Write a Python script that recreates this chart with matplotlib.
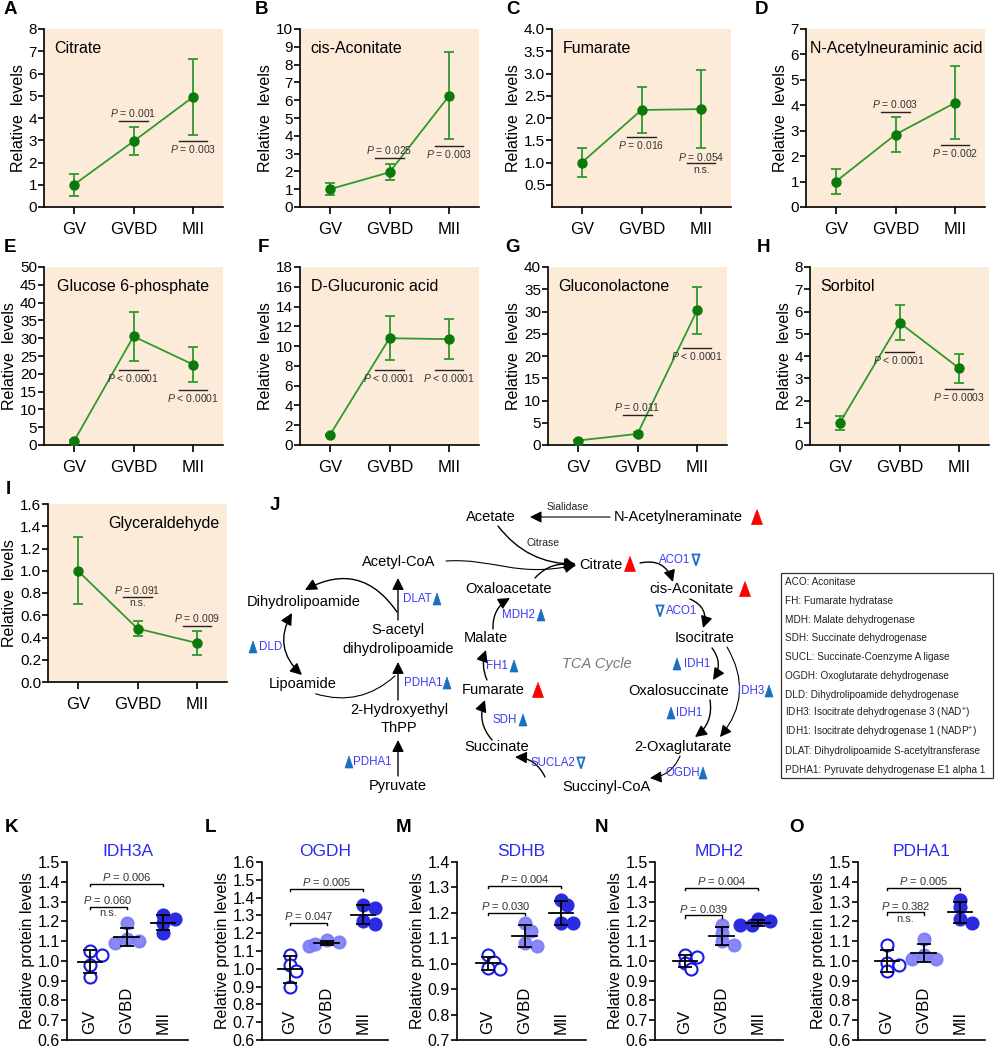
import numpy as np
import matplotlib
matplotlib.use('Agg')
import matplotlib.pyplot as plt
from matplotlib.patches import Polygon, FancyArrowPatch, Rectangle
from matplotlib.path import Path

plt.rcParams['font.family'] = ['Liberation Sans', 'DejaVu Sans']
plt.rcParams['mathtext.fontset'] = 'custom'
plt.rcParams['mathtext.rm'] = 'Liberation Sans'
plt.rcParams['mathtext.it'] = 'Liberation Sans:italic'

W, H = 996, 1050
fig = plt.figure(figsize=(W / 100, H / 100), dpi=100)

# ---- data ----
stages = ['GV', 'GVBD', 'MII']

met_names = ['Citrate', 'cis-Aconitate', 'Fumarate', 'N-Acetylneuraminic acid',
             'Glucose 6-phosphate', 'D-Glucuronic acid', 'Gluconolactone',
             'Sorbitol', 'Glyceraldehyde']
met_means = [[1.0, 2.95, 4.95], [1.0, 1.95, 6.25], [1.0, 2.18, 2.2],
             [1.0, 2.85, 4.1], [1.0, 30.5, 22.6], [1.0, 10.8, 10.7],
             [1.0, 2.5, 30.3], [1.0, 5.5, 3.45], [1.0, 0.48, 0.35]]
met_sd = [[0.5, 0.63, 1.7], [0.35, 0.45, 2.45], [0.32, 0.51, 0.87],
          [0.5, 0.67, 1.43], [0.3, 7.0, 4.9], [0.1, 2.2, 2.0],
          [0.1, 0.5, 5.3], [0.32, 0.78, 0.65], [0.3, 0.07, 0.11]]
met_ymax = [8, 10, 4, 7, 50, 18, 40, 8, 1.6]
met_ystep = [1, 1, 0.5, 1, 5, 2, 5, 1, 0.2]
# (stage, line level, p text, kind)
met_pvals = [
    [(1, 3.85, '0.001', 'above'), (2, 2.98, '0.003', 'below')],
    [(1, 2.75, '0.025', 'above'), (2, 3.45, '0.003', 'below')],
    [(1, 1.57, '0.016', 'below'), (2, 0.98, '0.054', 'ns')],
    [(1, 3.75, '0.003', 'above'), (2, 2.45, '0.002', 'below')],
    [(1, 21.2, '< 0.0001', 'below'), (2, 15.5, '< 0.0001', 'below')],
    [(1, 7.6, '< 0.0001', 'below'), (2, 7.6, '< 0.0001', 'below')],
    [(1, 6.8, '0.011', 'above'), (2, 21.8, '< 0.0001', 'below')],
    [(1, 4.2, '< 0.0001', 'below'), (2, 2.5, '0.0003', 'below')],
    [(1, 0.765, '0.091', 'ns'), (2, 0.5, '0.009', 'above')],
]

prot_names = ['IDH3A', 'OGDH', 'SDHB', 'MDH2', 'PDHA1']
prot_gv = [[1.05, 1.03, 0.98, 0.92], [1.08, 1.02, 0.99, 0.90],
           [1.035, 1.005, 0.985, 0.98], [1.03, 1.02, 0.99, 0.96],
           [1.08, 0.99, 0.98, 0.95]]
prot_gvbd = [[1.19, 1.11, 1.10, 1.09], [1.16, 1.15, 1.14, 1.13],
             [1.16, 1.13, 1.08, 1.07], [1.18, 1.14, 1.10, 1.08],
             [1.11, 1.03, 1.01, 1.01]]
prot_mii = [[1.23, 1.21, 1.19, 1.14], [1.36, 1.34, 1.27, 1.25],
            [1.25, 1.23, 1.16, 1.16], [1.21, 1.20, 1.18, 1.18],
            [1.31, 1.27, 1.21, 1.19]]
prot_ylim = [(0.6, 1.5), (0.6, 1.6), (0.7, 1.4), (0.6, 1.5), (0.6, 1.5)]
# (i, j, level, p text, n.s.)
prot_pvals = [
    [(0, 1, 1.275, '0.060', True), (0, 2, 1.39, '0.006', False)],
    [(0, 1, 1.26, '0.047', False), (0, 2, 1.45, '0.005', False)],
    [(0, 1, 1.20, '0.030', False), (0, 2, 1.305, '0.004', False)],
    [(0, 1, 1.23, '0.039', False), (0, 2, 1.37, '0.004', False)],
    [(0, 1, 1.245, '0.382', True), (0, 2, 1.37, '0.005', False)],
]

legend_lines = ['ACO: Aconitase', 'FH: Fumarate hydratase',
                'MDH: Malate dehydrogenase', 'SDH: Succinate dehydrogenase',
                'SUCL: Succinate-Coenzyme A ligase',
                'OGDH: Oxoglutarate dehydrogenase',
                'DLD: Dihydrolipoamide dehydrogenase',
                'IDH3: Isocitrate dehydrogenase 3 (NAD$^{+}$)',
                'IDH1: Isocitrate dehydrogenase 1 (NADP$^{+}$)',
                'DLAT: Dihydrolipoamide S-acetyltransferase',
                'PDHA1: Pyruvate dehydrogenase E1 alpha 1']

BG = '#fdebd9'
GREEN_L = '#2e9a2e'
GREEN_M = '#0b7a0b'
BLUE_T = '#2a2af0'


def px_axes(left, top, width, height):
    return fig.add_axes([left / W, 1 - (top + height) / H, width / W, height / H])


def ptext(p):
    if p.startswith('<'):
        return r'$\mathit{P}$ ' + p
    return r'$\mathit{P}$ = ' + p


# ================= metabolite panels =================
met_boxes = [(44, 29), (300, 29), (552, 29), (806, 29),
             (44, 267), (300, 267), (548, 267), (810, 267),
             (48, 504)]
title_x = [0.06, 0.06, 0.06, 0.02, 0.07, 0.06, 0.06, 0.06, 0.96]

for k in range(9):
    left, top = met_boxes[k]
    ax = px_axes(left, top, 179, 178)
    ax.set_facecolor(BG)
    m = np.array(met_means[k])
    s = np.array(met_sd[k])
    x = np.arange(3)
    ax.plot(x, m, '-', color=GREEN_L, lw=1.3, zorder=2)
    ax.errorbar(x, m, yerr=s, fmt='none', ecolor=GREEN_L, elinewidth=1.3,
                capsize=3.8, capthick=1.3, zorder=3)
    ax.plot(x, m, 'o', color=GREEN_M, ms=6.5, zorder=4)
    ax.set_xlim(-0.5, 2.5)
    ax.set_ylim(0, met_ymax[k])
    ticks = np.arange(0, met_ymax[k] + 1e-9, met_ystep[k])
    if k == 2:
        ticks = ticks[1:]
    ax.set_yticks(ticks)
    if met_ystep[k] < 1:
        ax.set_yticklabels([f'{t:.1f}' for t in ticks])
    else:
        ax.set_yticklabels([f'{t:.0f}' for t in ticks])
    ax.set_xticks(x)
    ax.set_xticklabels(stages, fontsize=12)
    ax.tick_params(axis='y', labelsize=11, length=4, width=1.2, pad=1)
    ax.tick_params(axis='x', length=5, width=1.2, pad=6)
    for sp in ['top', 'right']:
        ax.spines[sp].set_visible(False)
    for sp in ['left', 'bottom']:
        ax.spines[sp].set_linewidth(1.2)
    ax.set_ylabel('Relative  levels', fontsize=11.5, labelpad=2)
    ha = 'right' if k == 8 else 'left'
    ax.text(title_x[k], 0.89, met_names[k], transform=ax.transAxes,
            fontsize=11.5, ha=ha, va='center')
    for st, lvl, p, kind in met_pvals[k]:
        ax.plot([st - 0.24, st + 0.24], [lvl, lvl], color='#222222', lw=1.0)
        if kind == 'above':
            ax.annotate(ptext(p), (st, lvl), xytext=(0, 1.5),
                        textcoords='offset points', ha='center', va='bottom',
                        fontsize=7.5, color='#333333')
        elif kind == 'below':
            ax.annotate(ptext(p), (st, lvl), xytext=(0, -1.5),
                        textcoords='offset points', ha='center', va='top',
                        fontsize=7.5, color='#333333')
        else:
            ax.annotate(ptext(p), (st, lvl), xytext=(0, 0.5),
                        textcoords='offset points', ha='center', va='bottom',
                        fontsize=7.5, color='#333333')
            ax.annotate('n.s.', (st, lvl), xytext=(0, -1),
                        textcoords='offset points', ha='center', va='top',
                        fontsize=7.5, color='#333333')

# ================= protein dot plots =================
prot_axis = [(67, 90), (262, 290), (457, 488), (655, 685), (858, 887)]
SP = 36.5
face_cols = ['white', '#7b7bf5', '#2a2ae0']
edge_cols = ['#1a1ae6', '#7b7bf5', '#2a2ae0']


def swarm(vals, pxu, diam):
    placed = []
    offs = []
    for v in vals:
        y = v * pxu
        for kk in [0, 1, -1, 2, -2, 3, -3]:
            xo = kk * diam * 0.5
            if all((xo - a) ** 2 + (y - b) ** 2 >= (diam * 0.65) ** 2
                   for a, b in placed):
                break
        placed.append((xo, y))
        offs.append(xo / SP)
    return offs


for k in range(5):
    left, gv = prot_axis[k]
    lm = (gv - left) / SP
    width = (gv - left) + 2 * SP + 25
    ax = px_axes(left, 862, width, 178)
    y0, y1 = prot_ylim[k]
    ax.set_xlim(-lm, 2 + 25 / SP)
    ax.set_ylim(y0, y1)
    pxu = 178 / (y1 - y0)
    groups = [prot_gv[k], prot_gvbd[k], prot_mii[k]]
    for g, vals in enumerate(groups):
        vals = np.array(vals)
        offs = swarm(vals, pxu, 12)
        ax.scatter(g + np.array(offs), vals, s=75, facecolors=face_cols[g],
                   edgecolors=edge_cols[g], linewidths=1.5, zorder=2,
                   alpha=1.0 if g != 1 else 0.9)
        mu = vals.mean()
        sd = vals.std(ddof=1)
        ax.plot([g - 0.34, g + 0.34], [mu, mu], color='black', lw=1.3, zorder=3)
        ax.errorbar([g], [mu], yerr=[sd], fmt='none', ecolor='black',
                    elinewidth=1.3, capsize=5, capthick=1.3, zorder=3)
        ax.text(g, y0 + 6 / pxu, stages[g], rotation=90,
                ha='center', va='bottom', fontsize=12)
    for i, j, lvl, p, ns in prot_pvals[k]:
        d = 0.012 * (y1 - y0)
        ax.plot([i, i, j, j], [lvl - d, lvl, lvl, lvl - d], color='black', lw=1.0)
        ax.annotate(ptext(p), ((i + j) / 2, lvl), xytext=(0, 0.5),
                    textcoords='offset points', ha='center', va='bottom',
                    fontsize=8, color='#333333')
        if ns:
            ax.annotate('n.s.', ((i + j) / 2, lvl), xytext=(0, -1),
                        textcoords='offset points', ha='center', va='top',
                        fontsize=8, color='#333333')
    ticks = np.round(np.arange(y0, y1 + 1e-9, 0.1), 2)
    ax.set_yticks(ticks)
    ax.set_yticklabels([f'{t:.1f}' for t in ticks])
    ax.set_xticks([])
    ax.tick_params(axis='y', labelsize=11.5, length=4, width=1.2, pad=1)
    for sp in ['top', 'right']:
        ax.spines[sp].set_visible(False)
    for sp in ['left', 'bottom']:
        ax.spines[sp].set_linewidth(1.2)
    ax.set_ylabel('Relative protein levels', fontsize=11.5, labelpad=2)
    ax.set_title(prot_names[k], color=BLUE_T, fontsize=12.5, pad=4)

# ================= pathway diagram (J) =================
ad = fig.add_axes([0, 0, 1, 1], zorder=-1)
ad.set_xlim(0, W)
ad.set_ylim(H, 0)
ad.axis('off')
ad.patch.set_alpha(0)

# panel letters
letters = [('A', 10, 10), ('B', 262, 10), ('C', 513, 10), ('D', 762, 10),
           ('E', 10, 247), ('F', 263, 247), ('G', 513, 247), ('H', 763, 247),
           ('I', 8, 490), ('J', 275, 505),
           ('K', 11, 828), ('L', 211, 828), ('M', 404, 828), ('N', 601, 828),
           ('O', 797, 828)]
for t, x, y in letters:
    ad.text(x, y, t, fontsize=13.5, fontweight='bold', ha='center', va='center')

nodes = [('Acetate', 491, 517), ('N-Acetylneraminate', 678, 517),
         ('Citrate', 601, 565), ('Acetyl-CoA', 399, 562),
         ('Oxaloacetate', 509, 589), ('cis-Aconitate', 692, 589),
         ('Isocitrate', 705, 638), ('Dihydrolipoamide', 304, 602),
         ('S-acetyl', 398, 630), ('dihydrolipoamide', 398, 649),
         ('Malate', 486, 638), ('Lipoamide', 303, 684),
         ('Fumarate', 493, 690), ('Oxalosuccinate', 679, 691),
         ('2-Hydroxyethyl', 399, 710), ('ThPP', 399, 728),
         ('Succinate', 497, 747), ('2-Oxaglutarate', 683, 747),
         ('Pyruvate', 398, 786), ('Succinyl-CoA', 606, 787)]
for t, x, y in nodes:
    ad.text(x, y, t, fontsize=10.5, ha='center', va='center')

ad.text(568, 507, 'Sialidase', fontsize=7.5, ha='center', va='center', color='#222222')
ad.text(543, 543, 'Citrase', fontsize=7.5, ha='center', va='center', color='#222222')
ad.text(597, 664, 'TCA Cycle', fontsize=10.5, ha='center', va='center',
        color='#777777', style='italic')

ENZ = '#3a3af5'
TRI = '#1a70c0'
enzymes = [('ACO1', 675, 560), ('ACO1', 682, 611), ('DLAT', 417, 599),
           ('MDH2', 518, 615), ('DLD', 271, 647), ('PDHA1', 423, 683),
           ('FH1', 497, 666), ('IDH1', 697, 664), ('IDH3', 751, 691),
           ('SDH', 505, 720), ('IDH1', 689, 713), ('PDHA1', 372, 762),
           ('SUCLA2', 553, 763), ('OGDH', 683, 773)]
for t, x, y in enzymes:
    ad.text(x, y, t, fontsize=8.3, ha='center', va='center', color=ENZ)


def tri(x, y, w, h, color, up=True, filled=True):
    if up:
        pts = [(x - w / 2, y + h / 2), (x + w / 2, y + h / 2), (x, y - h / 2)]
    else:
        pts = [(x - w / 2, y - h / 2), (x + w / 2, y - h / 2), (x, y + h / 2)]
    ad.add_patch(Polygon(pts, closed=True, facecolor=color if filled else 'white',
                         edgecolor=color, lw=1.3 if not filled else 0.5))


for x, y in [(757, 517), (630, 564), (745, 589), (538, 690)]:
    tri(x, y, 11, 15, '#ff0000')
for x, y in [(437, 599), (541, 615), (253, 647), (447, 683), (514, 666),
             (677, 664), (769, 691), (523, 720), (671, 713), (349, 762),
             (703, 773)]:
    tri(x, y, 8, 12, TRI)
for x, y in [(696, 560), (660, 611), (581, 763)]:
    tri(x, y, 7, 11, TRI, up=False, filled=False)


def arrow(p0, p1, rad=0.0, style='-|>', lw=1.0):
    a = FancyArrowPatch(p0, p1, connectionstyle=f'arc3,rad={rad}',
                        arrowstyle=style + ',head_length=0.7,head_width=0.35',
                        mutation_scale=10, color='black', lw=lw,
                        shrinkA=0, shrinkB=0)
    ad.add_patch(a)


arrow((610, 517), (530, 517), 0, lw=0.8)
arrow((498, 526), (576, 564), 0.25)
arrow((535, 578), (576, 566), -0.3)
pth = Path([(446, 561), (495, 558), (515, 578), (576, 565)],
           [Path.MOVETO, Path.CURVE4, Path.CURVE4, Path.CURVE4])
ad.add_patch(FancyArrowPatch(path=pth, arrowstyle='-|>,head_length=0.7,head_width=0.35',
                             mutation_scale=10, color='black', lw=0.8))
arrow((640, 563), (673, 582), -0.45)
arrow((690, 599), (703, 628), -0.45)
arrow((712, 648), (713, 680), -0.35)
arrow((727, 647), (720, 737), -0.35, lw=0.8)
arrow((710, 700), (695, 737), -0.3)
arrow((680, 756), (650, 778), -0.3, lw=0.8)
arrow((545, 777), (515, 757), 0.3)
arrow((492, 740), (485, 700), -0.3)
arrow((487, 680), (486, 650), -0.2)
arrow((493, 629), (510, 598), -0.3)
arrow((398, 620), (398, 578), 0)
arrow((397, 612), (305, 590), 0.45)
arrow((292, 613), (302, 675), 0.4, style='<|-|>')
ad.add_patch(FancyArrowPatch((313, 693), (397, 674), connectionstyle='arc3,rad=0.3',
                             arrowstyle='-', color='black', lw=0.8))
arrow((398, 700), (398, 662), 0)
arrow((398, 776), (398, 740), 0)

# abbreviation box
ad.add_patch(Rectangle((781, 573), 212, 205, fill=False, edgecolor='#333333', lw=0.9))
for i, t in enumerate(legend_lines):
    ad.text(785, 582 + i * 18.8, t, fontsize=7.2, ha='left', va='center',
            color='#222222')

fig.savefig('out.png', dpi=100)
